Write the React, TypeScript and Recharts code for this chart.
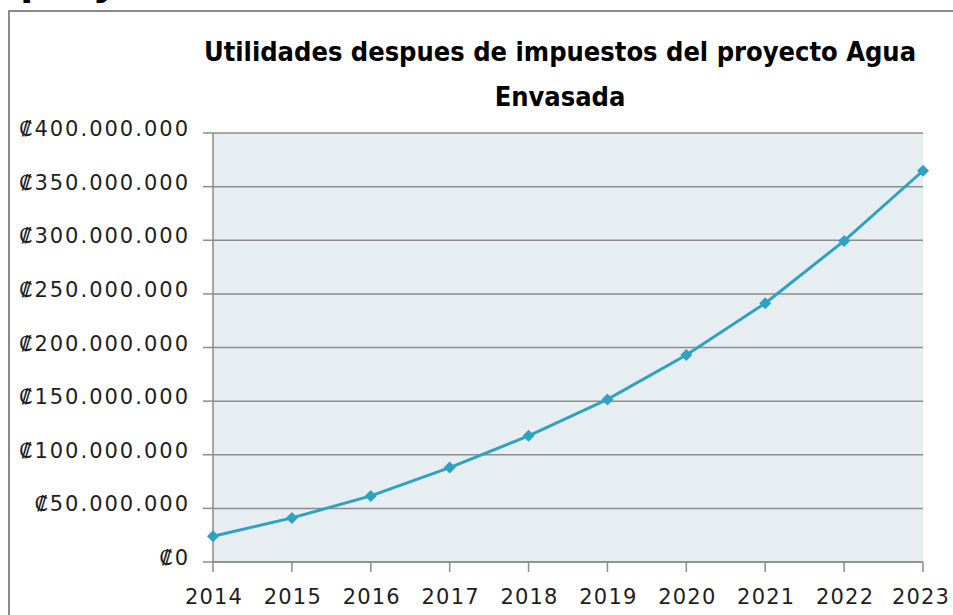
import React from "react";
import { CartesianGrid, Line, LineChart, XAxis, YAxis } from "recharts";

const years = ["2014", "2015", "2016", "2017", "2018", "2019", "2020", "2021", "2022", "2023"];
const utilidades = [
  24000000, 41100000, 61600000, 88000000, 117600000, 151600000, 193000000, 241300000,
  299400000, 364800000,
];
const yTicks = [0, 50000000, 100000000, 150000000, 200000000, 250000000, 300000000, 350000000, 400000000];

const titleLine1 = "Utilidades despues de impuestos del proyecto Agua";
const titleLine2 = "Envasada";

const data = years.map((year, i) => ({ year, utilidades: utilidades[i] }));

const LINE_COLOR = "#2fa2c0";
const AXIS_COLOR = "#8c8c8c";
const LABEL_FONT = "'DejaVu Sans', sans-serif";

function colones(v: number): string {
  return "₡" + String(v).replace(/\B(?=(\d{3})+(?!\d))/g, ".");
}

function Diamond(props: any) {
  const { cx, cy } = props;
  if (cx == null || cy == null) return null;
  const r = 6;
  return (
    <path
      d={`M${cx},${cy - r}L${cx + r},${cy}L${cx},${cy + r}L${cx - r},${cy}Z`}
      fill={LINE_COLOR}
    />
  );
}

function YTick(props: any) {
  const { x, y, payload } = props;
  return (
    <text
      x={x + 2}
      y={y}
      dy={3}
      textAnchor="end"
      fontSize={21}
      letterSpacing={2}
      fill="#1e1e1e"
      fontFamily={LABEL_FONT}
    >
      {colones(payload.value)}
    </text>
  );
}

function XTick(props: any) {
  const { x, y, payload, index } = props;
  // the last label sits against the right edge, nudge it in a touch
  const shift = index === years.length - 1 ? -2 : 1;
  return (
    <text
      x={x + shift}
      y={y}
      dy="0.71em"
      textAnchor="middle"
      fontSize={21}
      letterSpacing={1.2}
      fill="#1e1e1e"
      fontFamily={LABEL_FONT}
    >
      {payload.value}
    </text>
  );
}

export default function App() {
  return (
    <div
      style={{
        position: "fixed",
        left: 0,
        top: 0,
        width: 953,
        height: 615,
        overflow: "hidden",
        background: "#fff",
      }}
    >
      <div
        style={{
          position: "absolute",
          left: 20,
          top: -45,
          fontFamily: "'Open Sans', sans-serif",
          fontWeight: 700,
          fontSize: 44,
          lineHeight: "40px",
          color: "#000",
          whiteSpace: "nowrap",
        }}
      >
        proyecto
      </div>
      <div
        style={{
          position: "absolute",
          left: 8,
          top: 10,
          width: 1000,
          height: 700,
          border: "2px solid #8a8a8a",
        }}
      />
      <div
        style={{
          position: "absolute",
          left: 200,
          width: 720,
          top: 29,
          textAlign: "center",
          fontFamily: "'DejaVu Sans Condensed', 'DejaVu Sans', sans-serif",
          fontStretch: "condensed",
          fontWeight: 700,
          fontSize: 27,
          lineHeight: "45px",
          color: "#000",
        }}
      >
        <div>{titleLine1}</div>
        <div>{titleLine2}</div>
      </div>
      <div style={{ position: "absolute", left: 0, top: 0 }}>
        <LineChart
          width={953}
          height={615}
          data={data}
          margin={{ top: 133, right: 30, bottom: 23, left: 0 }}
        >
          <CartesianGrid
            vertical={false}
            stroke={AXIS_COLOR}
            strokeWidth={1.5}
            fill="#e6eef2"
            fillOpacity={1}
          />
          <XAxis
            dataKey="year"
            height={30}
            tickSize={10}
            tickMargin={17}
            stroke={AXIS_COLOR}
            strokeWidth={1.5}
            tick={<XTick />}
            interval={0}
          />
          <YAxis
            width={213}
            domain={[0, 400000000]}
            ticks={yTicks}
            tickSize={10}
            tickMargin={15}
            stroke={AXIS_COLOR}
            strokeWidth={1.5}
            tick={<YTick />}
            interval={0}
          />
          <Line
            type="linear"
            dataKey="utilidades"
            stroke={LINE_COLOR}
            strokeWidth={3}
            dot={<Diamond />}
            activeDot={false}
            isAnimationActive={false}
          />
        </LineChart>
      </div>
    </div>
  );
}
